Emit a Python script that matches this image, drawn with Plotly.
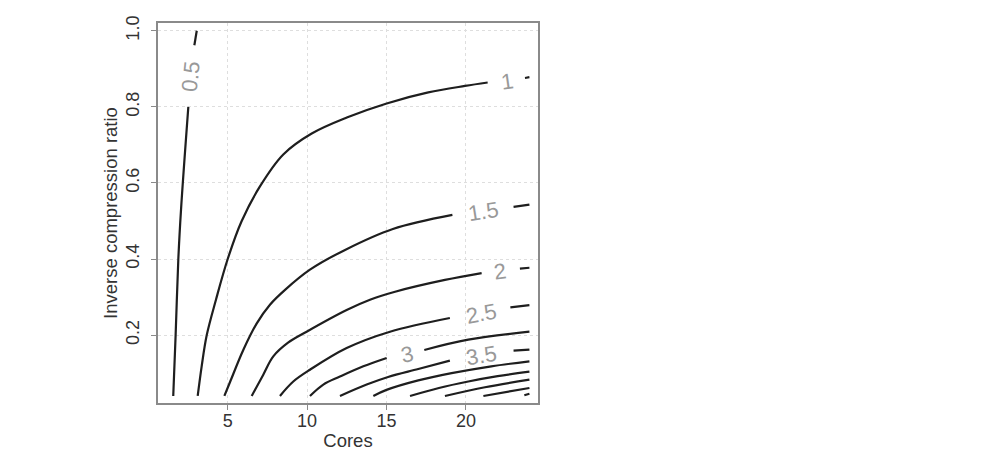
import plotly.graph_objects as go

# Contour lines (x = cores, y = inverse compression ratio)
# None separates the pieces of a line that are interrupted by its label.
lvl_0_5_x = [1.57, 1.72, 1.89, 2.06, 2.52, None, 2.90, 3.05]
lvl_0_5_y = [0.04, 0.20, 0.40, 0.53, 0.80, None, 0.962, 1.0]

lvl_1_x = [3.11, 3.36, 3.68, 4.26, 5.0, 5.86, 7.03, 8.5, 10.29, 12.5, 15.01, 17.63, 19.94, 21.37, None, 23.72, 24.0]
lvl_1_y = [0.04, 0.118, 0.20, 0.293, 0.40, 0.498, 0.591, 0.675, 0.730, 0.772, 0.809, 0.838, 0.855, 0.864, None, 0.876, 0.878]

lvl_1_5_x = [4.79, 5.16, 5.98, 6.83, 7.66, 8.61, 10.18, 12.39, 15.4, 19.15, None, 23.0, 24.0]
lvl_1_5_y = [0.04, 0.078, 0.161, 0.231, 0.280, 0.319, 0.372, 0.424, 0.479, 0.516, None, 0.537, 0.543]

lvl_2_x = [6.51, 7.24, 7.87, 8.8, 9.97, 12.49, 13.96, 15.54, 18.68, 20.99, None, 23.4, 24.0]
lvl_2_y = [0.04, 0.096, 0.144, 0.180, 0.209, 0.266, 0.293, 0.314, 0.345, 0.363, None, 0.375, 0.377]

lvl_2_5_x = [8.29, 9.13, 10.18, 12.49, 15.22, 18.99, None, 22.8, 24.0]
lvl_2_5_y = [0.04, 0.078, 0.109, 0.166, 0.209, 0.245, None, 0.273, 0.279]

lvl_3_x = [10.18, 11.02, 12.07, 13.54, 15.01, None, 17.38, 20.15, 24.0]
lvl_3_y = [0.04, 0.070, 0.091, 0.118, 0.140, None, 0.161, 0.188, 0.209]

lvl_3_5_x = [12.07, 13.75, 15.1, 17.0, 18.99, None, 23.0, 24.0]
lvl_3_5_y = [0.04, 0.070, 0.090, 0.111, 0.133, None, 0.159, 0.162]

lvl_4_x = [14.17, 15.0, 17.0, 19.1, 21.6, 24.0]
lvl_4_y = [0.04, 0.056, 0.081, 0.100, 0.118, 0.131]

lvl_4_5_x = [16.48, 18.3, 20.15, 22.0, 24.0]
lvl_4_5_y = [0.04, 0.061, 0.078, 0.092, 0.104]

lvl_5_x = [18.68, 21.2, 24.0]
lvl_5_y = [0.04, 0.063, 0.083]

lvl_5_5_x = [21.1, 24.0]
lvl_5_5_y = [0.04, 0.061]

lvl_6_x = [23.68, 24.0]
lvl_6_y = [0.042, 0.046]

# Contour labels
label_text = ["0.5", "1", "1.5", "2", "2.5", "3", "3.5"]
label_x = [2.69, 22.57, 21.1, 22.15, 21.0, 16.27, 21.0]
label_y = [0.879, 0.868, 0.526, 0.367, 0.256, 0.150, 0.147]
label_angle = [-84, -8, -9, -8, -11, -12, -10]

x_ticks = [5, 10, 15, 20]
y_ticks = [0.2, 0.4, 0.6, 0.8, 1.0]
y_tick_text = ["0.2", "0.4", "0.6", "0.8", "1.0"]

lines = [
    (lvl_0_5_x, lvl_0_5_y), (lvl_1_x, lvl_1_y), (lvl_1_5_x, lvl_1_5_y),
    (lvl_2_x, lvl_2_y), (lvl_2_5_x, lvl_2_5_y), (lvl_3_x, lvl_3_y),
    (lvl_3_5_x, lvl_3_5_y), (lvl_4_x, lvl_4_y), (lvl_4_5_x, lvl_4_5_y),
    (lvl_5_x, lvl_5_y), (lvl_5_5_x, lvl_5_5_y), (lvl_6_x, lvl_6_y),
]

fig = go.Figure()
for xs, ys in lines:
    fig.add_trace(go.Scatter(
        x=xs, y=ys, mode="lines",
        line=dict(color="#1e1e1e", width=2.2, shape="spline", smoothing=1.0),
        connectgaps=False, hoverinfo="skip", showlegend=False,
    ))

for t, lx, ly, ang in zip(label_text, label_x, label_y, label_angle):
    fig.add_annotation(
        x=lx, y=ly, text=t, showarrow=False, textangle=ang,
        font=dict(family="Liberation Sans, Arial, sans-serif", size=22, color="#999999"),
        xanchor="center", yanchor="middle",
    )

tick_font = dict(family="Liberation Sans, Arial, sans-serif", size=18, color="#333333")
title_font = dict(family="Liberation Sans, Arial, sans-serif", size=18.5, color="#333333")

fig.update_layout(
    width=985, height=453,
    margin=dict(l=158, r=447, t=23, b=50),
    paper_bgcolor="white", plot_bgcolor="white",
    showlegend=False,
    font=tick_font,
)
fig.update_xaxes(
    range=[0.61, 24.54], tickvals=x_ticks, ticktext=[str(v) for v in x_ticks],
    showgrid=True, gridcolor="#dedede", gridwidth=1, griddash="dot",
    zeroline=False, showline=True, mirror=True, linecolor="#8a8a8a", linewidth=1.8,
    ticks="outside", ticklen=5, tickcolor="#8a8a8a", tickwidth=1.2,
    tickfont=tick_font, ticklabelstandoff=-5,
    title=dict(text="Cores", font=title_font, standoff=5),
    automargin=False,
)
fig.update_yaxes(
    range=[0.0215, 1.0205], tickvals=y_ticks, ticktext=y_tick_text, tickangle=-90,
    showgrid=True, gridcolor="#dedede", gridwidth=1, griddash="dot",
    zeroline=False, showline=True, mirror=True, linecolor="#8a8a8a", linewidth=1.8,
    ticks="outside", ticklen=5, tickcolor="#8a8a8a", tickwidth=1.2,
    tickfont=tick_font, ticklabelstandoff=5,
    title=dict(text="Inverse compression ratio", font=title_font, standoff=0),
    automargin=False,
)

fig.write_html("out.html")
